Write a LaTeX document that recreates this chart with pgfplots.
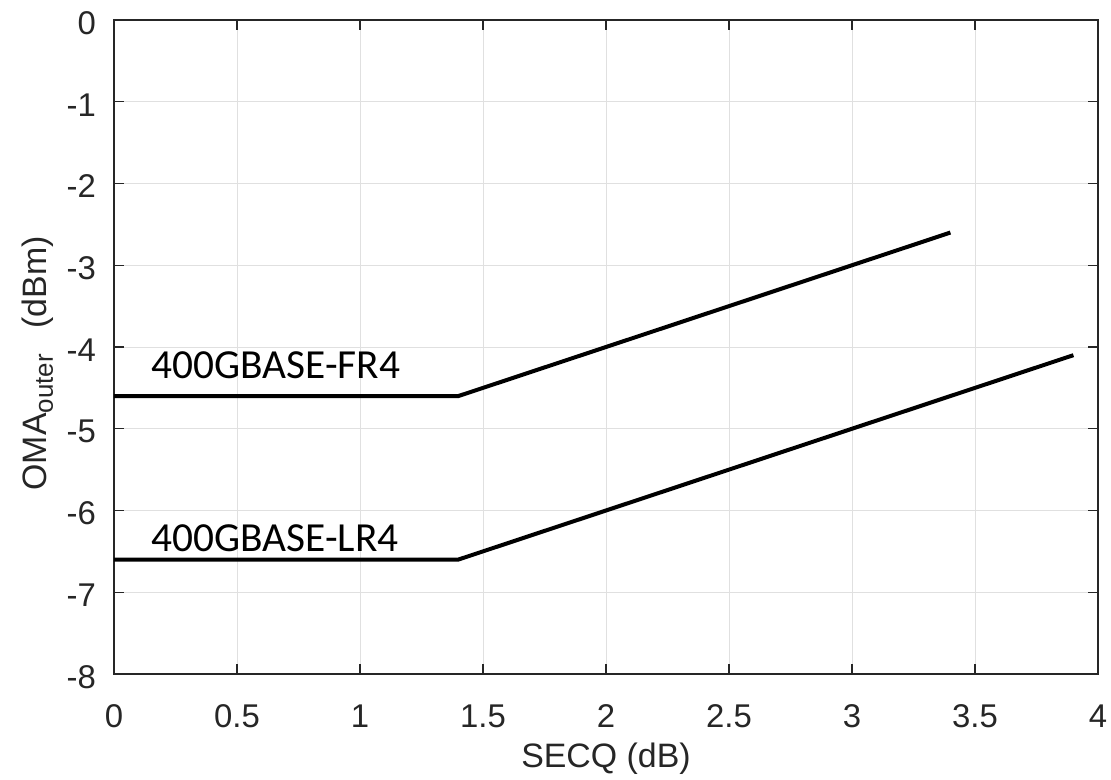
\documentclass[border=0pt]{standalone}
\usepackage{pgfplots}
\pgfplotsset{compat=1.18}
\usepackage{fontspec}
\setmainfont{Liberation Sans}
\newfontfamily\calibri{Carlito}
\definecolor{axisgray}{RGB}{38,38,38}
\definecolor{gridgray}{RGB}{224,224,224}
\begin{document}
\begin{tikzpicture}
\begin{axis}[
  scale only axis,
  width=984bp, height=654bp,
  xmin=0, xmax=4, ymin=-8, ymax=0,
  xtick={0,0.5,1,1.5,2,2.5,3,3.5,4},
  xticklabels={0,0.5,1,1.5,2,2.5,3,3.5,4},
  ytick={-8,-7,-6,-5,-4,-3,-2,-1,0},
  yticklabels={-8,-7,-6,-5,-4,-3,-2,-1,0},
  tick pos=both,
  tick align=inside,
  major tick length=10bp,
  axis line style={draw=axisgray, line width=1.3bp},
  every tick/.style={draw=axisgray, line width=1.3bp},
  grid=major,
  grid style={draw=gridgray, line width=1bp},
  ticklabel style={font=\fontsize{33}{38}\selectfont, text=axisgray},
  xticklabel style={anchor=base, yshift=-53bp, inner sep=0pt},
  yticklabel style={anchor=east, xshift=-18bp, yshift=-3bp, inner sep=0pt},
  xlabel={SECQ (dB)},
  xlabel style={font=\fontsize{34}{40}\selectfont, text=axisgray, at={(axis description cs:0.5,-0.1437)}, anchor=base, inner sep=0pt},
  ylabel={OMA\raisebox{-6bp}{\fontsize{26}{30}\selectfont outer}\hspace{26bp}(dBm)},
  ylabel style={font=\fontsize{34}{40}\selectfont, text=axisgray, at={(axis description cs:-0.0681,0.475)}, rotate=0, anchor=base, inner sep=0pt},
  clip=false,
]
\addplot[black, line width=4bp, mark=none] coordinates {(0,-4.6) (1.4,-4.6) (3.4,-2.6)};
\addplot[black, line width=4bp, mark=none] coordinates {(0,-6.6) (1.4,-6.6) (3.9,-4.1)};
\node[anchor=base west, inner sep=0pt, font=\calibri\fontsize{41.5}{48}\selectfont] at (axis cs:0.152,-4.39) {400GBASE-FR4};
\node[anchor=base west, inner sep=0pt, font=\calibri\fontsize{41.5}{48}\selectfont] at (axis cs:0.152,-6.50) {400GBASE-LR4};
\end{axis}
\path (current axis.south west) ++(-114bp,-106bp) rectangle ++(1111bp,780bp);
\end{tikzpicture}
\end{document}
